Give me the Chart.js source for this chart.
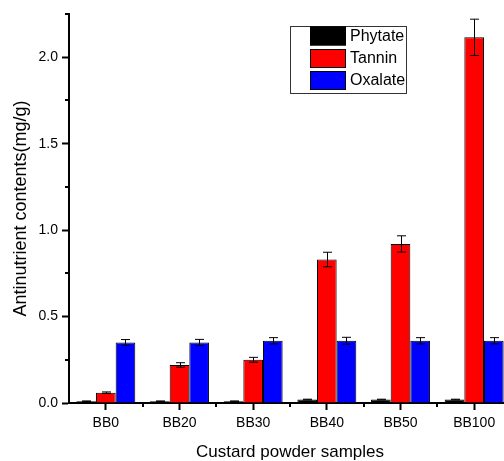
<!DOCTYPE html>
<html>
<head>
<meta charset="utf-8">
<script src="https://cdn.jsdelivr.net/npm/chart.js@4"></script>
<style>
  html, body { margin: 0; padding: 0; background: #fff; overflow: hidden; }
  #wrap { width: 504px; height: 461px; overflow: hidden; }
</style>
</head>
<body>
<div id="wrap"><canvas id="antiChart" width="511" height="461"></canvas></div>
<script>
const samples = ["BB0", "BB20", "BB30", "BB40", "BB50", "BB100"];
const phytate = [0.01, 0.01, 0.01, 0.02, 0.02, 0.02];
const phytateErr = [0.002, 0.002, 0.002, 0.002, 0.002, 0.002];
const tannin = [0.06, 0.22, 0.25, 0.83, 0.92, 2.115];
const tanninErr = [0.004, 0.013, 0.014, 0.042, 0.047, 0.105];
const oxalate = [0.35, 0.35, 0.36, 0.36, 0.36, 0.36];
const oxalateErr = [0.017, 0.018, 0.018, 0.02, 0.018, 0.018];
const yTicks = [0, 0.5, 1.0, 1.5, 2.0];

const FONT = "'Liberation Sans', Arial, sans-serif";

// error bars drawn on top of the bars
const errorBars = {
  id: "errorBars",
  afterDatasetsDraw(chart) {
    const ctx = chart.ctx;
    const y = chart.scales.y;
    ctx.save();
    ctx.strokeStyle = "#000";
    ctx.lineWidth = 1;
    chart.data.datasets.forEach((ds, i) => {
      const meta = chart.getDatasetMeta(i);
      meta.data.forEach((bar, j) => {
        const v = ds.data[j], e = ds.errors[j];
        const top = y.getPixelForValue(v + e);
        const bot = y.getPixelForValue(v - e);
        const x = Math.round(bar.x) + 0.5;
        ctx.beginPath();
        ctx.moveTo(x, top); ctx.lineTo(x, bot);
        ctx.moveTo(x - 4.5, top); ctx.lineTo(x + 4.5, top);
        ctx.moveTo(x - 4.5, bot); ctx.lineTo(x + 4.5, bot);
        ctx.stroke();
      });
    });
    ctx.restore();
  }
};

// minor ticks + boxed legend
const extras = {
  id: "extras",
  afterDraw(chart) {
    const ctx = chart.ctx;
    const x = chart.scales.x, y = chart.scales.y;
    const area = chart.chartArea;
    ctx.save();
    ctx.strokeStyle = "#000";
    ctx.lineWidth = 2;
    ctx.beginPath();
    for (let v = 0.25; v < 2.3; v += 0.5) {
      const py = Math.round(y.getPixelForValue(v));
      ctx.moveTo(area.left, py); ctx.lineTo(area.left - 4, py);
    }
    for (let i = 0; i + 1 < samples.length; i++) {
      const px = Math.round((x.getPixelForTick(i) + x.getPixelForTick(i + 1)) / 2);
      ctx.moveTo(px, area.bottom); ctx.lineTo(px, area.bottom + 4);
    }
    ctx.stroke();

    // legend
    ctx.lineWidth = 1;
    ctx.strokeStyle = "#333";
    ctx.strokeRect(290.5, 26.5, 116, 67);
    const rows = [26.5, 49, 71];
    ctx.font = "16px " + FONT;
    ctx.textBaseline = "middle";
    chart.data.datasets.forEach((ds, i) => {
      ctx.fillStyle = ds.backgroundColor;
      ctx.fillRect(310, rows[i], 36, 19);
      ctx.strokeStyle = "#000";
      ctx.strokeRect(310.5, rows[i] + 0.5, 35, 18);
      ctx.fillStyle = "#000";
      ctx.fillText(ds.label, 350, rows[i] + 10);
    });
    ctx.restore();
  }
};

new Chart(document.getElementById("antiChart"), {
  type: "bar",
  data: {
    labels: samples,
    datasets: [
      { label: "Phytate", data: phytate, errors: phytateErr, backgroundColor: "#000000" },
      { label: "Tannin", data: tannin, errors: tanninErr, backgroundColor: "#ff0000" },
      { label: "Oxalate", data: oxalate, errors: oxalateErr, backgroundColor: "#0000ff" },
    ].map(d => Object.assign(d, { borderColor: "#000", borderWidth: 1, categoryPercentage: 0.8, barPercentage: 1.0 })),
  },
  options: {
    responsive: false,
    animation: false,
    devicePixelRatio: 1,
    layout: { padding: { top: 14, right: 0, left: 0, bottom: 0 } },
    plugins: {
      legend: { display: false },
      tooltip: { enabled: false },
    },
    scales: {
      x: {
        offset: true,
        grid: { offset: false, drawOnChartArea: false, drawTicks: true, tickLength: 7, tickWidth: 2, tickColor: "#000" },
        border: { color: "#000", width: 2 },
        ticks: { color: "#000", padding: 5, font: { family: FONT, size: 14 } },
        title: { display: true, text: "Custard powder samples", color: "#000", font: { family: FONT, size: 17, lineHeight: 1.0 }, padding: { top: 0, bottom: 0 } },
        afterFit(scale) { scale.height = 58; },
      },
      y: {
        min: 0,
        max: 2.25,
        afterBuildTicks(scale) { scale.ticks = yTicks.map(v => ({ value: v })); },
        grid: { drawOnChartArea: false, drawTicks: true, tickLength: 7, tickWidth: 2, tickColor: "#000" },
        border: { color: "#000", width: 2 },
        ticks: { color: "#000", padding: 4, font: { family: FONT, size: 14 }, callback: v => v.toFixed(1) },
        title: { display: true, text: "Antinutrient contents(mg/g)", color: "#000", font: { family: FONT, size: 18 }, padding: { top: 10, bottom: 0 } },
        afterFit(scale) { scale.width = 69; },
      },
    },
  },
  plugins: [errorBars, extras],
});
</script>
</body>
</html>
